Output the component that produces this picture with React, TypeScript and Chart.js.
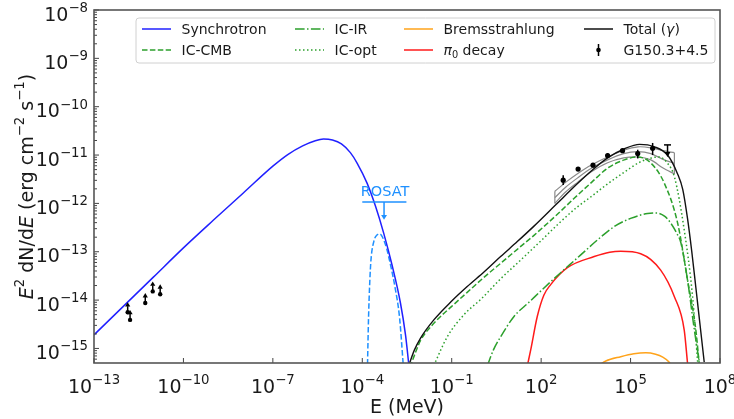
import React, { useEffect, useRef } from "react";
import { Chart, registerables } from "chart.js";

Chart.register(...registerables);

// ---------- Data: log10(E / MeV) and log10(E^2 dN/dE / erg cm^-2 s^-1) ----------
const X_MIN_EXP = -13;
const X_MAX_EXP = 8;
const Y_MIN = 5e-16;
const Y_MAX = 1e-8;

const xTickExps = [-13, -10, -7, -4, -1, 2, 5, 8];
const yTickExps = [-15, -14, -13, -12, -11, -10, -9, -8];

const syncLogE = [-13, -12, -11, -10, -9, -8, -7, -6.5, -6.0, -5.6, -5.3, -5.0, -4.7, -4.4, -4.17, -3.84, -3.55, -3.28, -3.0, -2.72, -2.55, -2.44];
const syncLogF = [-14.72, -14.12, -13.52, -12.92, -12.35, -11.79, -11.23, -10.99, -10.81, -10.71, -10.67, -10.69, -10.77, -10.95, -11.17, -11.58, -12.07, -12.62, -13.28, -14.06, -14.72, -15.33];

const thermLogE = [-3.83, -3.79, -3.75, -3.71, -3.61, -3.5, -3.41, -3.32, -3.18, -3.05, -2.9, -2.75, -2.62];
const thermLogF = [-15.49, -14.36, -13.64, -13.18, -12.78, -12.65, -12.63, -12.7, -12.94, -13.28, -13.74, -14.36, -15.39];

const totLogE = [-2.44, -2.25, -2.05, -1.6, -1.0, -0.48, 0.1, 0.64, 1.2, 1.76, 2.49, 3.22, 3.7, 4.23, 4.8, 5.3, 5.8, 6.24, 6.57, 6.75, 6.91, 7.05, 7.19, 7.33, 7.47];
const totLogF = [-15.35, -15.03, -14.79, -14.41, -14.02, -13.72, -13.41, -13.1, -12.79, -12.47, -12.03, -11.59, -11.32, -11.06, -10.87, -10.78, -10.83, -11.0, -11.38, -11.71, -12.31, -12.98, -13.74, -14.51, -15.28];

const cmbLogE = [-2.4, -2.2, -2.05, -1.6, -1.0, -0.48, 0.1, 0.64, 1.2, 1.76, 2.5, 3.1, 3.7, 4.23, 4.79, 5.24, 5.69, 6.13, 6.58, 6.91, 7.19, 7.3];
const cmbLogF = [-15.39, -15.06, -14.84, -14.48, -14.13, -13.84, -13.52, -13.24, -12.95, -12.66, -12.25, -11.9, -11.56, -11.27, -11.1, -11.04, -11.17, -11.58, -12.41, -13.58, -14.62, -15.3];

const irLogE = [0.2, 0.4, 0.64, 1.09, 1.6, 2.32, 3.32, 3.9, 4.45, 5.0, 5.57, 5.88, 6.15, 6.35, 6.55, 6.69, 6.91, 7.14, 7.31];
const irLogF = [-15.35, -15.03, -14.76, -14.34, -14.04, -13.62, -13.07, -12.75, -12.48, -12.31, -12.21, -12.2, -12.27, -12.41, -12.62, -12.82, -13.58, -14.62, -15.3];

const optLogE = [-1.6, -1.15, -0.6, 0.0, 0.64, 1.3, 2.0, 2.6, 3.2, 3.7, 4.2, 4.8, 5.3, 5.7, 5.95, 6.24, 6.47, 6.8, 7.08, 7.25];
const optLogF = [-15.35, -14.76, -14.31, -13.97, -13.56, -13.18, -12.77, -12.41, -12.08, -11.85, -11.61, -11.35, -11.15, -11.06, -11.04, -11.17, -11.45, -12.55, -13.93, -15.28];

const bremLogE = [3.87, 4.17, 4.67, 5.11, 5.51, 5.84, 6.08, 6.29, 6.39];
const bremLogF = [-15.38, -15.26, -15.17, -15.11, -15.09, -15.12, -15.18, -15.28, -15.37];

const pi0LogE = [1.54, 1.65, 1.87, 2.09, 2.32, 2.88, 3.78, 4.3, 4.67, 5.34, 6.01, 6.47, 6.8, 6.91];
const pi0LogF = [-15.35, -15.03, -14.34, -13.9, -13.68, -13.33, -13.1, -13.01, -12.99, -13.04, -13.38, -13.93, -14.62, -15.3];

// Fermi-LAT bow-tie
const bowLogE = [2.46, 2.83, 3.23, 3.67, 4.23, 4.77, 5.25, 5.68, 6.09, 6.47];
const bowUpLogF = [-11.75, -11.56, -11.38, -11.21, -11.04, -10.9, -10.83, -10.85, -10.91, -10.95];
const bowMidLogF = [-11.88, -11.66, -11.47, -11.28, -11.1, -10.97, -10.93, -10.97, -11.09, -11.17];
const bowLoLogF = [-12.0, -11.76, -11.56, -11.35, -11.16, -11.06, -11.04, -11.1, -11.27, -11.39];

// G150.3+4.5 data points
const fermiLogE = [2.74, 3.24, 3.74, 4.23, 4.73, 5.24, 5.74];
const fermiLogF = [-11.52, -11.29, -11.21, -11.01, -10.91, -10.97, -10.86];
const fermiLoLogF = [-11.62, -11.33, -11.25, -11.05, -10.95, -11.07, -11.0];
const fermiHiLogF = [-11.42, -11.25, -11.17, -10.96, -10.87, -10.89, -10.75];
const ulLogE = [6.24];
const ulLogF = [-10.79];
const ulTipLogF = [-11.04];

// low-energy lower limits
const llLogE = [-11.87, -11.79, -11.28, -11.03, -10.78];
const llLogF = [-14.25, -14.41, -14.06, -13.82, -13.88];

// ROSAT upper limit
const rosatLogE = [-3.27];
const rosatLogEmin = [-4.0];
const rosatLogEmax = [-2.52];
const rosatLogF = [-11.97];
const rosatTipLogF = [-12.34];

// ---------- styles ----------
const FAM = '"DejaVu Sans", "Liberation Sans", sans-serif';
const C_SYN = "#2020ff";
const C_THERM = "#1e90ff";
const C_GREEN = "#2ca02c";
const C_RED = "#ff1a1a";
const C_ORANGE = "#ffa31a";
const C_TOT = "#111111";
const C_GRAY = "#8a8a8a";
const DASH = [5.5, 2.4];
const DOT = [1.5, 2.5];
const DASHDOT = [9.6, 2.4, 1.5, 2.4];

const p10 = (v: number) => Math.pow(10, v);
const pts = (xs: number[], ys: number[]) => xs.map((x, i) => ({ x: p10(x), y: p10(ys[i]) }));

function curve(label: string, xs: number[], ys: number[], color: string, dash: number[] = [], width = 1.5, mono = true) {
  return {
    label,
    data: pts(xs, ys),
    borderColor: color,
    backgroundColor: color,
    borderDash: dash,
    borderWidth: width,
    pointRadius: 0,
    pointHoverRadius: 0,
    showLine: true,
    fill: false,
    cubicInterpolationMode: mono ? "monotone" : "default",
    tension: mono ? 0 : 0.3,
  };
}

type Part = { t: string; it?: boolean; sup?: boolean; sub?: boolean };

function drawRich(ctx: CanvasRenderingContext2D, parts: Part[], x: number, y: number, size: number, align: string) {
  const fonts = parts.map((p) => {
    const s = p.sup || p.sub ? size * 0.7 : size;
    return `${p.it ? "italic " : ""}${s}px ${FAM}`;
  });
  let w = 0;
  parts.forEach((p, i) => {
    ctx.font = fonts[i];
    w += ctx.measureText(p.t).width;
  });
  let cx = align === "center" ? x - w / 2 : align === "right" ? x - w : x;
  parts.forEach((p, i) => {
    ctx.font = fonts[i];
    const dy = p.sup ? -size * 0.45 : p.sub ? size * 0.22 : 0;
    ctx.fillText(p.t, cx, y + dy);
    cx += ctx.measureText(p.t).width;
  });
}

function seg(ctx: CanvasRenderingContext2D, x1: number, y1: number, x2: number, y2: number) {
  ctx.beginPath();
  ctx.moveTo(x1, y1);
  ctx.lineTo(x2, y2);
  ctx.stroke();
}

function arrowHead(ctx: CanvasRenderingContext2D, x: number, y: number, dir: number, size = 4.5) {
  ctx.beginPath();
  ctx.moveTo(x, y);
  ctx.lineTo(x - size * 0.65, y - dir * size * 1.1);
  ctx.lineTo(x + size * 0.65, y - dir * size * 1.1);
  ctx.closePath();
  ctx.fill();
}

const legendItems = [
  { label: [{ t: "Synchrotron" }], color: C_SYN, dash: [], col: 0, row: 0 },
  { label: [{ t: "IC-CMB" }], color: C_GREEN, dash: DASH, col: 0, row: 1 },
  { label: [{ t: "IC-IR" }], color: C_GREEN, dash: DASHDOT, col: 1, row: 0 },
  { label: [{ t: "IC-opt" }], color: C_GREEN, dash: DOT, col: 1, row: 1 },
  { label: [{ t: "Bremsstrahlung" }], color: C_ORANGE, dash: [], col: 2, row: 0 },
  { label: [{ t: "π", it: true }, { t: "0", sub: true }, { t: " decay" }], color: C_RED, dash: [], col: 2, row: 1 },
  { label: [{ t: "Total (" }, { t: "γ", it: true }, { t: ")" }], color: C_TOT, dash: [], col: 3, row: 0 },
  { label: [{ t: "G150.3+4.5" }], color: "#000", dash: null, col: 3, row: 1 },
];

const decor = {
  id: "decor",
  afterDatasetsDraw(chart: any) {
    const { ctx, chartArea: ca, scales } = chart;
    const px = (v: number) => scales.x.getPixelForValue(p10(v));
    const py = (v: number) => scales.y.getPixelForValue(p10(v));
    ctx.save();
    ctx.beginPath();
    ctx.rect(ca.left, ca.top, ca.right - ca.left, ca.bottom - ca.top);
    ctx.clip();
    ctx.setLineDash([]);
    ctx.strokeStyle = "#000";
    ctx.fillStyle = "#000";
    ctx.lineWidth = 1.5;
    fermiLogE.forEach((e, i) => {
      const X = px(e);
      seg(ctx, X, py(fermiLoLogF[i]), X, py(fermiHiLogF[i]));
    });
    ulLogE.forEach((e, i) => {
      const X = px(e);
      const Y0 = py(ulLogF[i]);
      const Y1 = py(ulTipLogF[i]);
      seg(ctx, X - 3.5, Y0, X + 3.5, Y0);
      seg(ctx, X, Y0, X, Y1 - 4);
      arrowHead(ctx, X, Y1, 1);
    });
    llLogE.forEach((e, i) => {
      const X = px(e);
      const Y = py(llLogF[i]);
      seg(ctx, X, Y, X, Y - 6);
      arrowHead(ctx, X, Y - 10, -1, 4);
    });
    ctx.strokeStyle = C_THERM;
    ctx.fillStyle = C_THERM;
    rosatLogE.forEach((e, i) => {
      const X = px(e);
      const Y0 = py(rosatLogF[i]);
      const Y1 = py(rosatTipLogF[i]);
      seg(ctx, px(rosatLogEmin[i]), Y0, px(rosatLogEmax[i]), Y0);
      seg(ctx, X, Y0, X, Y1 - 4);
      arrowHead(ctx, X, Y1, 1, 4.5);
      ctx.font = `14.5px ${FAM}`;
      ctx.textAlign = "center";
      ctx.textBaseline = "alphabetic";
      ctx.fillText("ROSAT", X + 1, Y0 - 6);
    });
    ctx.restore();
  },
  afterDraw(chart: any) {
    const { ctx, chartArea: ca, scales } = chart;
    const px = (v: number) => scales.x.getPixelForValue(p10(v));
    const py = (v: number) => scales.y.getPixelForValue(p10(v));
    const yMinExp = Math.log10(Y_MIN);
    const yMaxExp = Math.log10(Y_MAX);
    ctx.save();
    ctx.setLineDash([]);
    ctx.strokeStyle = "#444";
    ctx.lineWidth = 1;
    yTickExps.forEach((e) => {
      const Y = py(e);
      seg(ctx, ca.left, Y, ca.left + 5, Y);
    });
    for (let e = -16; e <= -9; e++) {
      for (let m = 2; m <= 9; m++) {
        const v = e + Math.log10(m);
        if (v > yMinExp + 0.01 && v < yMaxExp - 0.01) {
          const Y = py(v);
          seg(ctx, ca.left, Y, ca.left + 3, Y);
        }
      }
    }
    xTickExps.forEach((e) => {
      const X = px(e);
      seg(ctx, X, ca.bottom, X, ca.bottom - 5);
    });
    ctx.strokeStyle = "#555";
    ctx.lineWidth = 1.6;
    ctx.strokeRect(ca.left, ca.top, ca.right - ca.left, ca.bottom - ca.top);

    ctx.fillStyle = "#1a1a1a";
    ctx.textAlign = "left";
    ctx.textBaseline = "alphabetic";
    const TS = 19;
    xTickExps.forEach((e) => {
      const sup = e < 0 ? "\u2212" + Math.abs(e) : String(e);
      drawRich(ctx, [{ t: "10" }, { t: sup, sup: true }], px(e), ca.bottom + 30, TS, "center");
    });
    yTickExps.forEach((e) => {
      const sup = e < 0 ? "\u2212" + Math.abs(e) : String(e);
      drawRich(ctx, [{ t: "10" }, { t: sup, sup: true }], ca.left - 6, py(e) + 10.5, TS, "right");
    });
    drawRich(ctx, [{ t: "E (MeV)" }], (ca.left + ca.right) / 2, 413, 19, "center");
    ctx.save();
    ctx.translate(26, (ca.top + ca.bottom) / 2);
    ctx.rotate(-Math.PI / 2);
    drawRich(
      ctx,
      [
        { t: "E", it: true },
        { t: "2", sup: true },
        { t: " dN/d" },
        { t: "E", it: true },
        { t: " (erg cm" },
        { t: "\u22122", sup: true },
        { t: " s" },
        { t: "\u22121", sup: true },
        { t: ")" },
      ],
      0,
      7,
      19,
      "center"
    );
    ctx.restore();

    const LW = 579;
    const LH = 45;
    const lx = ca.right - 5 - LW;
    const ly = ca.top + 8;
    ctx.beginPath();
    const r = 3;
    ctx.moveTo(lx + r, ly);
    ctx.lineTo(lx + LW - r, ly);
    ctx.quadraticCurveTo(lx + LW, ly, lx + LW, ly + r);
    ctx.lineTo(lx + LW, ly + LH - r);
    ctx.quadraticCurveTo(lx + LW, ly + LH, lx + LW - r, ly + LH);
    ctx.lineTo(lx + r, ly + LH);
    ctx.quadraticCurveTo(lx, ly + LH, lx, ly + LH - r);
    ctx.lineTo(lx, ly + r);
    ctx.quadraticCurveTo(lx, ly, lx + r, ly);
    ctx.closePath();
    ctx.fillStyle = "rgba(255,255,255,0.85)";
    ctx.fill();
    ctx.strokeStyle = "#d0d0d0";
    ctx.lineWidth = 1;
    ctx.stroke();

    const colX = [6, 159, 268, 448];
    const rowY = [11, 32];
    legendItems.forEach((it) => {
      const sx = lx + colX[it.col];
      const sy = ly + rowY[it.row];
      if (it.dash) {
        ctx.strokeStyle = it.color;
        ctx.lineWidth = 1.5;
        ctx.setLineDash(it.dash);
        seg(ctx, sx, sy, sx + 29, sy);
        ctx.setLineDash([]);
      } else {
        ctx.strokeStyle = "#000";
        ctx.fillStyle = "#000";
        ctx.lineWidth = 1.5;
        seg(ctx, sx + 14.5, sy - 6, sx + 14.5, sy + 6);
        ctx.beginPath();
        ctx.arc(sx + 14.5, sy, 2.3, 0, Math.PI * 2);
        ctx.fill();
      }
      ctx.fillStyle = "#1a1a1a";
      drawRich(ctx, it.label as Part[], sx + 39.5, sy + 5, 14, "left");
    });
    ctx.restore();
  },
};

export default function App() {
  const ref = useRef<HTMLCanvasElement | null>(null);
  useEffect(() => {
    const canvas = ref.current;
    if (!canvas) return;
    const datasets: any[] = [
      {
        label: "G150.3+4.5",
        data: pts(fermiLogE, fermiLogF),
        showLine: false,
        pointRadius: 2.6,
        pointBackgroundColor: "#000",
        pointBorderWidth: 0,
        borderColor: "#000",
      },
      {
        label: "lower limits",
        data: pts(llLogE, llLogF),
        showLine: false,
        pointRadius: 2.2,
        pointBackgroundColor: "#000",
        pointBorderWidth: 0,
        borderColor: "#000",
      },
      curve("Total (γ)", totLogE, totLogF, C_TOT, [], 1.4),
      curve("Synchrotron", syncLogE, syncLogF, C_SYN, [], 1.5),
      curve("thermal", thermLogE, thermLogF, C_THERM, DASH, 1.5),
      curve("IC-CMB", cmbLogE, cmbLogF, C_GREEN, DASH, 1.5),
      curve("IC-IR", irLogE, irLogF, C_GREEN, DASHDOT, 1.5),
      curve("IC-opt", optLogE, optLogF, C_GREEN, DOT, 1.5),
      curve("Bremsstrahlung", bremLogE, bremLogF, C_ORANGE, [], 1.5),
      curve("π0 decay", pi0LogE, pi0LogF, C_RED, [], 1.5),
      curve("bow up", bowLogE, bowUpLogF, C_GRAY, [], 1.2, false),
      curve("bow mid", bowLogE, bowMidLogF, C_GRAY, [], 1.2, false),
      curve("bow lo", bowLogE, bowLoLogF, C_GRAY, [], 1.2, false),
      curve("bow left", [bowLogE[0], bowLogE[0]], [bowLoLogF[0], bowUpLogF[0]], C_GRAY, [], 1.2, false),
      curve(
        "bow right",
        [bowLogE[bowLogE.length - 1], bowLogE[bowLogE.length - 1]],
        [bowLoLogF[bowLoLogF.length - 1], bowUpLogF[bowUpLogF.length - 1]],
        C_GRAY,
        [],
        1.2,
        false
      ),
    ];
    const chart = new Chart(canvas, {
      type: "line",
      data: { datasets },
      options: {
        responsive: false,
        animation: false,
        events: [],
        layout: { padding: { left: 94, right: 14, top: 10, bottom: 56 } },
        plugins: { legend: { display: false }, tooltip: { enabled: false } },
        scales: {
          x: { type: "logarithmic", min: p10(X_MIN_EXP), max: p10(X_MAX_EXP), display: false },
          y: { type: "logarithmic", min: Y_MIN, max: Y_MAX, display: false },
        },
      } as any,
      plugins: [decor as any],
    });
    return () => chart.destroy();
  }, []);
  return (
    <div style={{ position: "absolute", left: 0, top: 0, width: 734, height: 419, background: "#fff" }}>
      <canvas ref={ref} width={734} height={419} style={{ display: "block" }} />
    </div>
  );
}
